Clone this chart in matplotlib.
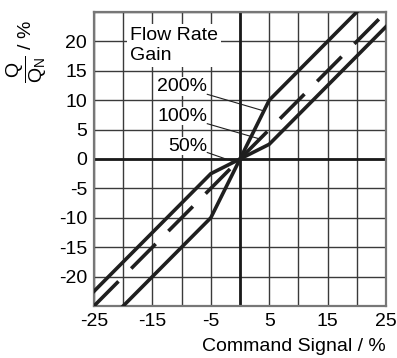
import matplotlib
matplotlib.use("Agg")
import matplotlib.pyplot as plt

plt.rcParams['font.family'] = ['Liberation Sans', 'DejaVu Sans']
plt.rcParams['mathtext.fontset'] = 'custom'
plt.rcParams['mathtext.rm'] = 'Liberation Sans'
plt.rcParams['mathtext.it'] = 'Liberation Sans'
plt.rcParams['lines.scale_dashes'] = False

# characteristic curves: command signal (%) -> flow Q/QN (%)
cmd_200 = [-20, -5, 0, 5, 20]
q_200 = [-25, -10, 0, 10, 25]
cmd_100 = [-25, 25]
q_100 = [-25, 25]
cmd_50 = [-25, -5, 0, 5, 25]
q_50 = [-22.5, -2.5, 0, 2.5, 22.5]

x_ticks = [-25, -15, -5, 5, 15, 25]
y_ticks = [-20, -15, -10, -5, 0, 5, 10, 15, 20]
grid_steps = list(range(-25, 26, 5))

gain_labels = ['200%', '100%', '50%']
label_y = [12.3, 7.3, 2.2]
leader_from = [(-5.6, 11.0), (-5.6, 6.0), (-5.6, 1.1)]
leader_to = [(4.0, 8.2), (3.4, 3.4), (-0.7, -0.6)]

fig = plt.figure(figsize=(3.97, 3.58), dpi=100)
ax = fig.add_axes([0.2368, 0.1453, 0.9723 - 0.2368, 0.9665 - 0.1453])

ax.set_xlim(-25, 25)
ax.set_ylim(-25, 25)

# grid
for g in grid_steps:
    ax.axvline(g, color='#3a3a3a', lw=1.0, zorder=1)
    ax.axhline(g, color='#3a3a3a', lw=1.0, zorder=1)
ax.axvline(0, color='#1a1a1a', lw=2.0, zorder=2)
ax.axhline(0, color='#1a1a1a', lw=2.0, zorder=2)

line_col = '#1f1f1f'
ax.plot(cmd_200, q_200, color=line_col, lw=2.6, solid_joinstyle='miter', zorder=4)
ax.plot(cmd_50, q_50, color=line_col, lw=2.6, solid_joinstyle='miter', zorder=4)
ax.plot(cmd_100, q_100, color=line_col, lw=2.6, dashes=(25, 13), zorder=4)

# labels
ax.text(-18.8, 19.3, 'Flow Rate\nGain', fontsize=14, ha='left', va='center',
        linespacing=1.3, zorder=5,
        bbox=dict(facecolor='white', edgecolor='none', pad=2.0))
for lab, yy in zip(gain_labels, label_y):
    ax.text(-5.6, yy, lab, fontsize=14, ha='right', va='center', zorder=5,
            bbox=dict(facecolor='white', edgecolor='none', pad=0.5))
for (x0, y0), (x1, y1) in zip(leader_from, leader_to):
    ax.plot([x0, x1], [y0, y1], color=line_col, lw=0.8, zorder=5)

ax.set_xticks(x_ticks)
ax.set_yticks(y_ticks)
ax.set_xticklabels([str(v) for v in x_ticks])
ax.set_yticklabels([str(v) for v in y_ticks])
ax.tick_params(length=0, labelsize=14, pad=5)
for s in ax.spines.values():
    s.set_color('#777777')
    s.set_linewidth(1.6)

fig.text(0.9723, 0.008, 'Command Signal / %', fontsize=14, ha='right', va='bottom')
fig.text(0.068, 0.855, r'$\dfrac{Q}{Q_N}$ / %', fontsize=14, rotation=90,
         ha='center', va='center')

fig.savefig('out.png', dpi=100)
